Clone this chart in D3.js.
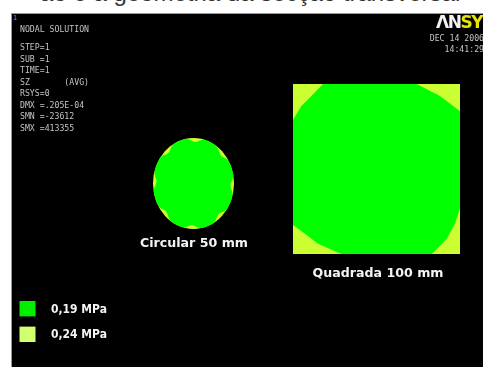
<!DOCTYPE html>
<html>
<head>
<meta charset="utf-8">
<script src="https://cdn.jsdelivr.net/npm/d3@7"></script>
<style>
  html, body { margin: 0; padding: 0; background: #fff; }
  svg { display: block; }
</style>
</head>
<body>
<div id="chart"></div>
<script>
// Stress bands (MPa) shown in the contour legend
const bandLabels = ["0,19 MPa", "0,24 MPa"];
const bandValues = [0.19, 0.24];
const bandColors = ["#00ff00", "#ccff33"];
const legendColors = ["#00f000", "#d2ff6e"];

// Cross sections analysed
const sectionNames = ["Circular 50 mm", "Quadrada 100 mm"];
const sectionShapes = ["circle", "square"];
const sectionSizeMm = [50, 100];

// Solver header block
const headerLines = ["STEP=1", "SUB =1", "TIME=1", "SZ       (AVG)", "RSYS=0", "DMX =.205E-04", "SMN =-23612", "SMX =413355"];
const stampLines = ["DEC 14 2006", "14:41:29"];

const W = 483, H = 367;
const svg = d3.select("#chart").append("svg").attr("width", W).attr("height", H);

const defs = svg.append("defs");
defs.append("filter").attr("id", "soft")
  .append("feGaussianBlur").attr("stdDeviation", 0.4);

// caption line above the plot window (only its lower edge shows)
svg.append("text")
  .attr("x", 40).attr("y", 1)
  .attr("font-family", "Liberation Sans, Arial, sans-serif")
  .attr("font-size", 24)
  .attr("fill", "#333")
  .text("ão e a geometria da secção transversal");

// plot window
svg.append("rect")
  .attr("x", 11.5).attr("y", 13.5).attr("width", W).attr("height", H)
  .attr("fill", "#000").attr("stroke", "#9a9a9a").attr("stroke-width", 1);

// window number
svg.append("text").attr("x", 13).attr("y", 20)
  .attr("font-family", "DejaVu Sans Mono, monospace").attr("font-size", 7)
  .attr("fill", "#22b5b5").text("1");

const mono = svg.append("g")
  .attr("font-family", "DejaVu Sans Mono, monospace")
  .attr("font-size", 8.2)
  .attr("fill", "#c4c4c4")
  .attr("filter", "url(#soft)");

mono.append("text").attr("x", 20).attr("y", 32).text("NODAL SOLUTION");

const headerY = d3.scalePoint().domain(d3.range(headerLines.length)).range([50, 131]);
mono.selectAll("text.hdr").data(headerLines).join("text")
  .attr("class", "hdr")
  .attr("x", 20)
  .attr("y", (d, i) => headerY(i))
  .attr("xml:space", "preserve")
  .style("white-space", "pre")
  .text(d => d);

const stampY = d3.scalePoint().domain(d3.range(stampLines.length)).range([41, 52]);
mono.selectAll("text.stamp").data(stampLines).join("text")
  .attr("class", "stamp")
  .attr("x", 484)
  .attr("text-anchor", "end")
  .attr("y", (d, i) => stampY(i))
  .text(d => d);

// logo at top right, running past the window edge
const logo = svg.append("text")
  .attr("x", 436).attr("y", 28)
  .attr("font-family", "DejaVu Sans, sans-serif")
  .attr("font-weight", "bold")
  .attr("font-size", 17)
  .attr("letter-spacing", -1.5)
  .attr("filter", "url(#soft)");
logo.append("tspan").attr("fill", "#f2f2f2").text("ΛN");
logo.append("tspan").attr("fill", "#e6e600").text("SY");

// geometry scales: millimetres to pixels
const mmX = d3.scaleLinear().domain([0, 100]).range([0, 167]);
const mmY = d3.scaleLinear().domain([0, 100]).range([0, 170]);
const centerX = d3.scaleOrdinal().domain(sectionShapes).range([193.5, 376.5]);
const centerY = d3.scaleOrdinal().domain(sectionShapes).range([183.5, 169]);
const colorOf = d3.scaleOrdinal().domain(bandValues).range(bandColors);

const shapes = svg.append("g").attr("filter", "url(#soft)");

sectionShapes.forEach((shape, i) => {
  const cx = centerX(shape), cy = centerY(shape);
  const size = sectionSizeMm[i];
  if (shape === "circle") {
    const rx = mmX(size) / 2 * 0.97, ry = mmY(size) / 2 * 1.07;
    shapes.append("ellipse")
      .attr("cx", cx).attr("cy", cy).attr("rx", rx).attr("ry", ry)
      .attr("fill", colorOf(bandValues[1]));
    // inner band: scalloped contour following the element mesh
    const pts = d3.range(0, 360, 2).map(a => {
      const t = a * Math.PI / 180;
      const k = 1 - 0.085 * Math.pow(Math.abs(Math.sin(4 * (t + 0.35))), 6);
      return [cx + rx * k * Math.cos(t), cy + ry * k * Math.sin(t)];
    });
    shapes.append("path")
      .attr("d", d3.line().curve(d3.curveCardinalClosed)(pts))
      .attr("fill", colorOf(bandValues[0]));
  } else {
    const w = mmX(size), h = mmY(size);
    const x0 = cx - w / 2, y0 = cy - h / 2;
    shapes.append("rect")
      .attr("x", x0).attr("y", y0).attr("width", w).attr("height", h)
      .attr("fill", colorOf(bandValues[1]));
    // inner band boundary, expressed in section fractions
    const fx = d3.scaleLinear().domain([0, 1]).range([x0, x0 + w]);
    const fy = d3.scaleLinear().domain([0, 1]).range([y0, y0 + h]);
    const inner = [
      [0.18, 0], [0.74, 0], [0.88, 0.07], [1, 0.16], [1, 0.73], [0.97, 0.82], [0.92, 0.91], [0.83, 1],
      [0.29, 1], [0.15, 0.94], [0.07, 0.88], [0, 0.83], [0, 0.21], [0.05, 0.13], [0.11, 0.07]
    ];
    shapes.append("path")
      .attr("d", d3.line().x(d => fx(d[0])).y(d => fy(d[1])).curve(d3.curveLinearClosed)(inner))
      .attr("fill", colorOf(bandValues[0]));
  }
});

// section captions
const capY = d3.scaleOrdinal().domain(sectionShapes).range([247, 277]);
const capW = d3.scaleOrdinal().domain(sectionShapes).range([108, 131]);
svg.append("g")
  .attr("font-family", "DejaVu Sans, sans-serif")
  .attr("font-weight", "bold")
  .attr("font-size", 12.5)
  .attr("fill", "#f4f4f4")
  .attr("filter", "url(#soft)")
  .selectAll("text").data(sectionNames).join("text")
  .attr("x", (d, i) => centerX(sectionShapes[i]) + (i === 0 ? 0.5 : 1.5))
  .attr("y", (d, i) => capY(sectionShapes[i]))
  .attr("text-anchor", "middle")
  .attr("textLength", (d, i) => capW(sectionShapes[i]))
  .attr("lengthAdjust", "spacingAndGlyphs")
  .text(d => d);

// legend
const legY = d3.scaleBand().domain(bandLabels).range([301, 342]).paddingInner(0.4);
const leg = svg.append("g").attr("filter", "url(#soft)");
leg.selectAll("rect").data(bandLabels).join("rect")
  .attr("x", 19.5).attr("y", d => legY(d))
  .attr("width", 16).attr("height", legY.bandwidth())
  .attr("fill", (d, i) => legendColors[i]);
leg.selectAll("text").data(bandLabels).join("text")
  .attr("x", 51)
  .attr("y", d => legY(d) + legY.bandwidth() / 2 + 4)
  .attr("font-family", "DejaVu Sans, sans-serif")
  .attr("font-weight", "bold")
  .attr("font-size", 11.5)
  .attr("fill", "#f4f4f4")
  .attr("textLength", 56)
  .attr("lengthAdjust", "spacingAndGlyphs")
  .text(d => d);
</script>
</body>
</html>
